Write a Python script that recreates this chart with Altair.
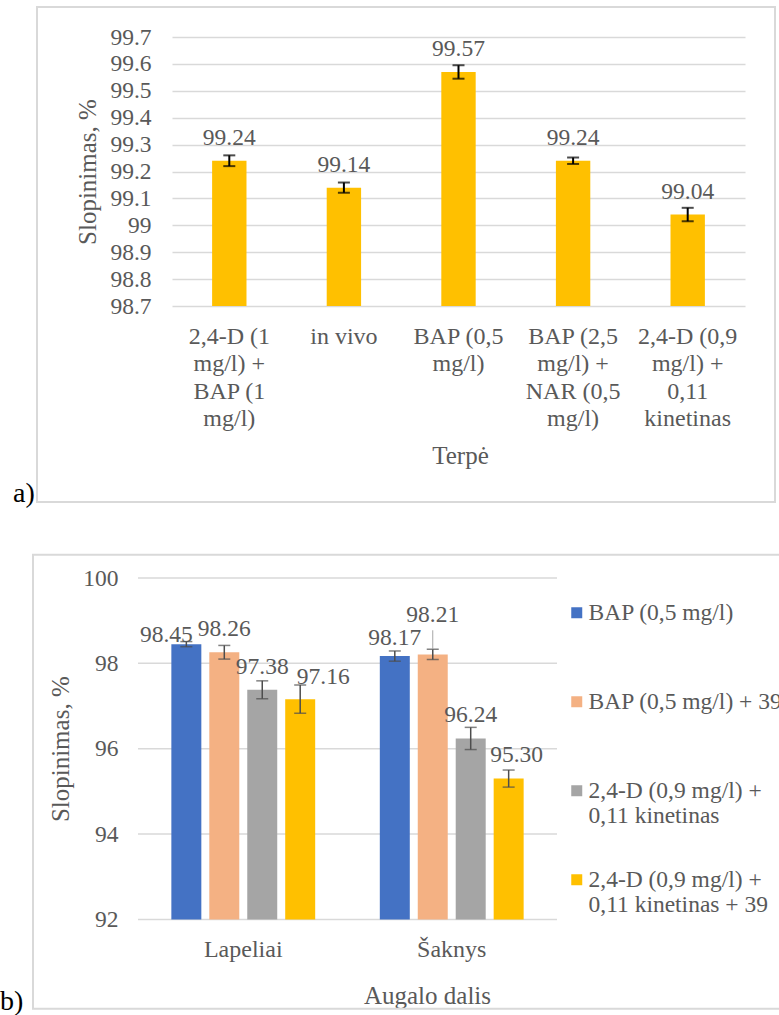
import altair as alt
import pandas as pd

FONT = "Liberation Serif, Times New Roman, serif"
GRAY = "#595959"
GRID = "#D9D9D9"

# ---------------- Panel a data ----------------
media = [
    "2,4-D (1\nmg/l) +\nBAP (1\nmg/l)",
    "in vivo",
    "BAP (0,5\nmg/l)",
    "BAP (2,5\nmg/l) +\nNAR (0,5\nmg/l)",
    "2,4-D (0,9\nmg/l) +\n0,11\nkinetinas",
]
inhib_a = [99.24, 99.14, 99.57, 99.24, 99.04]
err_a = [0.020, 0.019, 0.025, 0.012, 0.025]
ticks_a = [98.7, 98.8, 98.9, 99.0, 99.1, 99.2, 99.3, 99.4, 99.5, 99.6, 99.7]
ymin_a, ymax_a = 98.7, 99.7

# ---------------- Panel b data ----------------
parts = ["Lapeliai", "Šaknys"]
series_b = [
    "BAP (0,5 mg/l)",
    "BAP (0,5 mg/l) + 39",
    "2,4-D (0,9 mg/l) +\n0,11 kinetinas",
    "2,4-D (0,9 mg/l) +\n0,11 kinetinas + 39",
]
colors_b = ["#4472C4", "#F4B183", "#A5A5A5", "#FFC000"]
lap_vals = [98.45, 98.26, 97.38, 97.16]
sak_vals = [98.17, 98.21, 96.24, 95.30]
lap_err = [0.06, 0.16, 0.21, 0.33]
sak_err = [0.12, 0.12, 0.26, 0.20]
ticks_b = [92, 94, 96, 98, 100]
ymin_b, ymax_b = 92, 100

one = pd.DataFrame({"k": [0]})


def deco_rect(x, x2, y, y2, **kw):
    return alt.Chart(one).mark_rect(**kw).encode(
        x=alt.value(x), x2=alt.value(x2), y=alt.value(y), y2=alt.value(y2)
    )


def deco_text(txt, x, y):
    return alt.Chart(one).mark_text(
        text=txt, align="left", baseline="alphabetic", fontSize=28, color="black", font=FONT
    ).encode(x=alt.value(x), y=alt.value(y))


# ================= Panel a =================
WA, HA = 573, 269
df_a = pd.DataFrame({"medium": media, "value": inhib_a, "err": err_a})
base_a = alt.Chart(df_a).transform_calculate(
    lo="datum.value - datum.err", hi="datum.value + datum.err"
)
xs_a = alt.Scale(paddingInner=0.7, paddingOuter=0.35)
x_a = alt.X(
    "medium:N", sort=media, scale=xs_a, title="Terpė",
    axis=alt.Axis(
        labelExpr="split(datum.label, '\\n')", labelAngle=0, labelPadding=18,
        labelLineHeight=27.5, labelFontSize=24, labelLimit=400, labelOverlap=False,
        domain=False, ticks=False, titleFontSize=25, titleX=288, titleY=149,
        titleBaseline="middle", titleAlign="center",
    ),
)
x_a2 = alt.X("medium:N", sort=media, scale=xs_a)
ys_a = alt.Scale(domain=[ymin_a, ymax_a], nice=False, zero=False)
y_a = alt.Y(
    "value:Q", scale=ys_a, title="Slopinimas,  %",
    axis=alt.Axis(
        values=ticks_a, tickCount=len(ticks_a), labelOverlap=False,
        labelExpr="format(datum.value, '.1~f')", grid=True,
        gridColor=GRID, gridWidth=1.5, domain=False, ticks=False, tickSize=0,
        labelPadding=21, labelFontSize=23.5, titleFontSize=25, titleAngle=270,
        titleX=-85, titleY=HA / 2, titleBaseline="middle", titleAlign="center",
    ),
)

bars_a = base_a.mark_bar(color="#FFC000").encode(x=x_a, y=y_a, y2=alt.datum(ymin_a))
rule_a = base_a.mark_rule(color="black", strokeWidth=2).encode(
    x=x_a2, y=alt.Y("lo:Q", scale=ys_a), y2="hi:Q"
)
tlo_a = base_a.mark_tick(color="black", size=12, thickness=2).encode(
    x=x_a2, y=alt.Y("lo:Q", scale=ys_a)
)
thi_a = base_a.mark_tick(color="black", size=12, thickness=2).encode(
    x=x_a2, y=alt.Y("hi:Q", scale=ys_a)
)
lab_a = base_a.mark_text(
    dy=-16, fontSize=23.5, color=GRAY, font=FONT, baseline="alphabetic"
).encode(x=x_a2, y=alt.Y("value:Q", scale=ys_a), text=alt.Text("value:Q", format=".2f"))

panel_a = alt.layer(
    deco_rect(-172, 607, -37, 490.3, fill="white", fillOpacity=0),
    deco_rect(-135, 603, -30, 465, fill="white", fillOpacity=0, stroke=GRID, strokeWidth=2),
    bars_a, rule_a, tlo_a, thi_a, lab_a,
    deco_text("a)", -159, 465),
).properties(width=WA, height=HA)

# ================= Panel b =================
# panel b's plot area starts 34 px left of panel a's (shared group origin)
SHIFT = 34
WB, HB = 419 - SHIFT, 341.4
rows = []
for p, vals, errs in [(parts[0], lap_vals, lap_err), (parts[1], sak_vals, sak_err)]:
    for i, (s, v, e) in enumerate(zip(series_b, vals, errs)):
        rows.append({"part": p, "series": s, "si": i, "value": v, "err": e})
df_b = pd.DataFrame(rows)
base_b = alt.Chart(df_b).transform_calculate(
    lo="datum.value - datum.err", hi="datum.value + datum.err"
)
xs_b = alt.Scale(paddingInner=0.31, paddingOuter=0.16, range=[-SHIFT, WB])
x_b = alt.X(
    "part:N", sort=parts, scale=xs_b, title="Augalo dalis",
    axis=alt.Axis(
        labelAngle=0, labelPadding=18, labelFontSize=24, labelLimit=400,
        domain=False, ticks=False, titleFontSize=25, titleX=255, titleY=76,
        titleBaseline="middle", titleAlign="center",
    ),
)
x_b2 = alt.X("part:N", sort=parts, scale=xs_b)
xo_b = alt.XOffset("series:N", sort=series_b, scale=alt.Scale(paddingInner=0.21, paddingOuter=0))
ys_b = alt.Scale(domain=[ymin_b, ymax_b], nice=False, zero=False)
y_b = alt.Y(
    "value:Q", scale=ys_b, title="Slopinimas,  %",
    axis=alt.Axis(
        values=ticks_b, tickCount=len(ticks_b), grid=False, domain=False, offset=SHIFT,
        ticks=False, tickSize=0, labelPadding=20, labelFontSize=23.5,
        titleFontSize=25, titleAngle=270, titleX=-78, titleY=HB / 2,
        titleBaseline="middle", titleAlign="center",
    ),
)
color_b = alt.Color(
    "series:N", sort=series_b,
    scale=alt.Scale(domain=series_b, range=colors_b),
    legend=alt.Legend(
        orient="none", legendX=393, legendY=23, title=None, symbolType="square",
        symbolSize=121, symbolStrokeWidth=0, labelFontSize=23.5, labelColor=GRAY,
        labelFont=FONT, labelBaseline="middle", labelOffset=0,
        labelLimit=600, rowPadding=39, padding=0,
        labelExpr="indexof(datum.label, '\\n') >= 0 ? split(datum.label, '\\n') : [datum.label, '']",
    ),
)

grid_b = alt.Chart(pd.DataFrame({"t": ticks_b})).mark_rule(
    color=GRID, strokeWidth=1.5
).encode(y=alt.Y("t:Q", scale=ys_b), x=alt.value(-SHIFT), x2=alt.value(WB))

bars_b = base_b.mark_bar().encode(x=x_b, xOffset=xo_b, y=y_b, y2=alt.datum(ymin_b), color=color_b)
ERRC = "#4D4D4D"
rule_b = base_b.mark_rule(color=ERRC, strokeWidth=1.5).encode(
    x=x_b2, xOffset=xo_b, y=alt.Y("lo:Q", scale=ys_b), y2="hi:Q"
)
tlo_b = base_b.mark_tick(color=ERRC, size=12, thickness=1.5).encode(
    x=x_b2, xOffset=xo_b, y=alt.Y("lo:Q", scale=ys_b)
)
thi_b = base_b.mark_tick(color=ERRC, size=12, thickness=1.5).encode(
    x=x_b2, xOffset=xo_b, y=alt.Y("hi:Q", scale=ys_b)
)
leader_b = base_b.transform_filter("datum.part == 'Šaknys' && datum.si == 1").mark_rule(
    color="#A6A6A6", strokeWidth=1, y2Offset=-19
).encode(x=x_b2, xOffset=xo_b, y=alt.Y("hi:Q", scale=ys_b), y2="hi:Q")


def labels_b(filt, dx=0, dy=-16):
    return base_b.transform_filter(filt).mark_text(
        dx=dx, dy=dy, fontSize=23.5, color=GRAY, font=FONT, baseline="alphabetic"
    ).encode(
        x=x_b2, xOffset=xo_b, y=alt.Y("value:Q", scale=ys_b),
        text=alt.Text("value:Q", format=".2f"),
    )


special = (
    "(datum.part == 'Lapeliai' && (datum.si == 0 || datum.si == 3)) || "
    "(datum.part == 'Šaknys' && (datum.si == 0 || datum.si == 1 || datum.si == 3))"
)
lab_b = [
    labels_b("!(" + special + ")"),
    labels_b("datum.part == 'Lapeliai' && datum.si == 0", dx=-20, dy=-2),
    labels_b("datum.part == 'Lapeliai' && datum.si == 3", dx=23, dy=-15),
    labels_b("datum.part == 'Šaknys' && datum.si == 0", dy=-11),
    labels_b("datum.part == 'Šaknys' && datum.si == 1", dy=-32),
    labels_b("datum.part == 'Šaknys' && datum.si == 3", dx=8, dy=-17),
]

panel_b = alt.layer(
    deco_rect(-172, 607, -49.3, 435.7, fill="white", fillOpacity=0),
    deco_rect(-139, 648, -23.3, 430.7, fill="white", fillOpacity=0, stroke=GRID, strokeWidth=2),
    grid_b, bars_b, rule_b, tlo_b, thi_b, leader_b, *lab_b,
    deco_text("b)", -172, 432),
).properties(width=WB, height=HB)

chart = (
    alt.concat(panel_a, panel_b, columns=1, spacing=0)
    .resolve_scale(color="independent")
    .properties(
        padding={"left": 172, "top": 37, "right": 607, "bottom": 978},
        autosize=alt.AutoSizeParams(type="none"),
    )
    .configure_view(stroke="transparent")
    .configure_axis(
        labelFont=FONT, titleFont=FONT, labelColor=GRAY, titleColor=GRAY,
        titleFontWeight="normal",
    )
    .configure_legend(labelFont=FONT)
    .configure_text(font=FONT)
)

chart.save("out.html", embed_options={"renderer": "svg", "actions": False})
